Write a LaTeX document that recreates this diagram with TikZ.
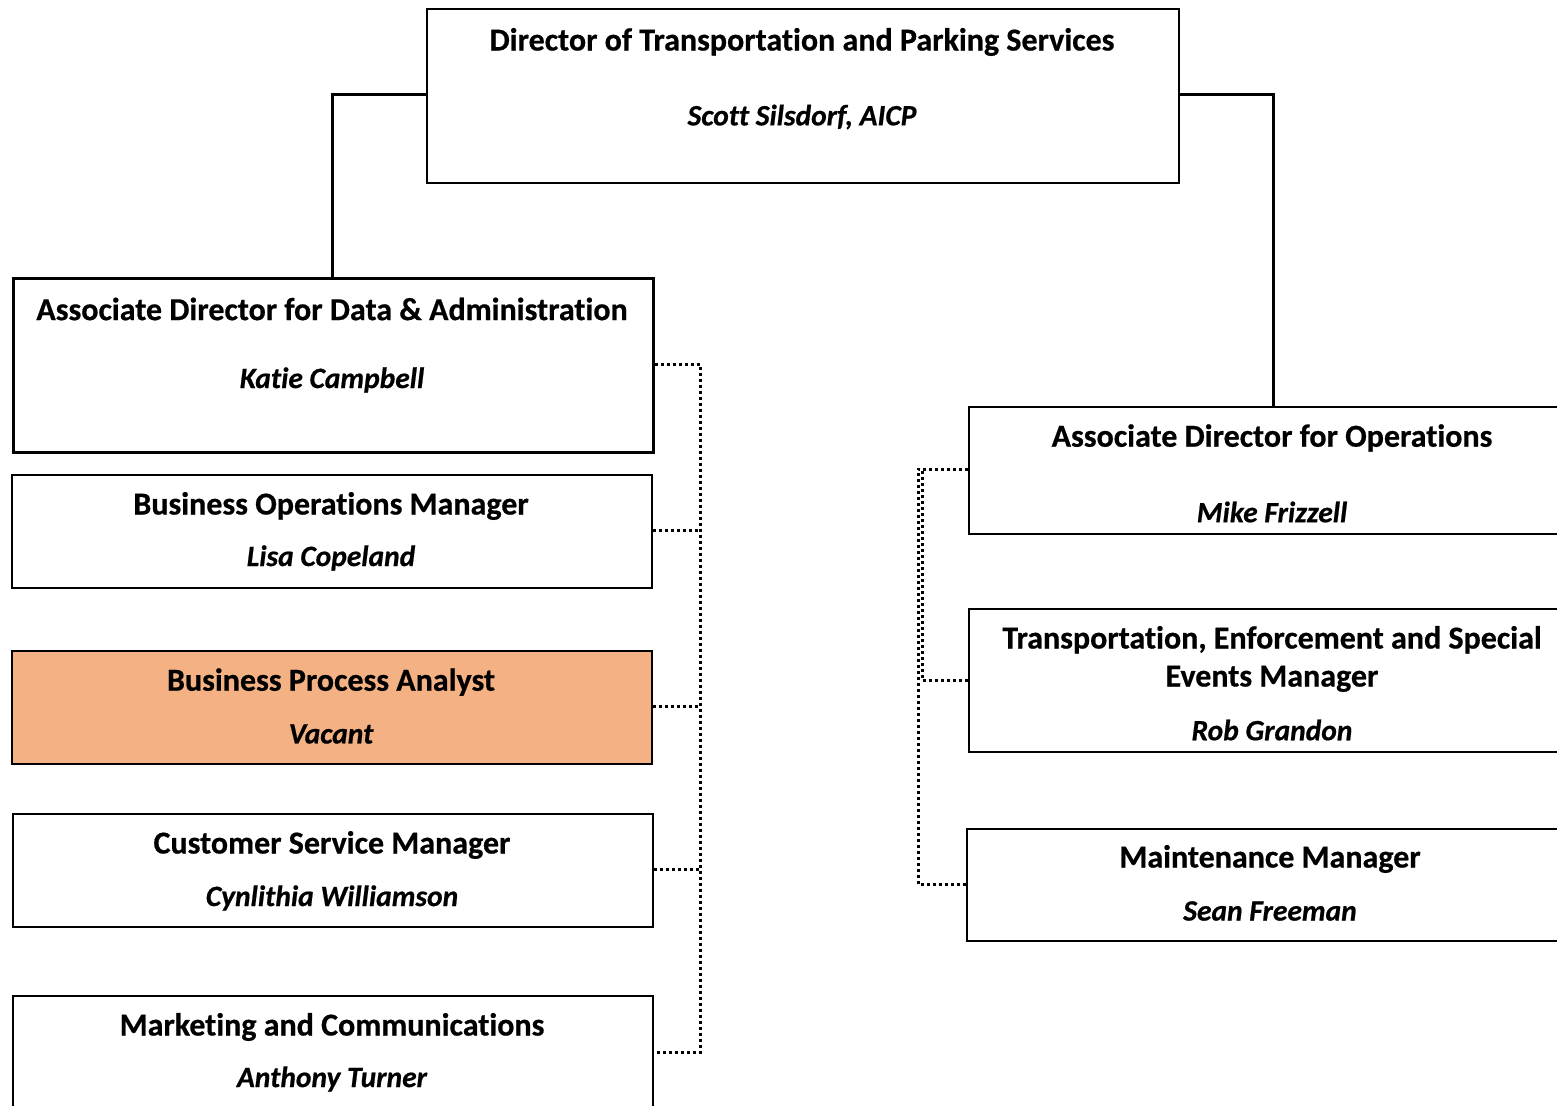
\documentclass[tikz,border=0pt]{standalone}
\usepackage{fontspec}
\setmainfont{Carlito}[Ligatures=NoCommon, BoldFeatures={FakeBold=0.6}, BoldItalicFeatures={FakeBold=0.6}]
\begin{document}
\begin{tikzpicture}[x=1pt,y=1pt,
  box/.style={draw=black, line width=2pt, fill=white, inner sep=0pt, anchor=north west},
  ttl/.style={font=\bfseries\fontsize{32}{38}\selectfont, align=center, inner sep=0pt},
  nm/.style={font=\bfseries\itshape\fontsize{29.5}{35}\selectfont, inner sep=0pt},
  solidc/.style={line width=3pt},
  dotc/.style={line width=3pt, dash pattern=on 3pt off 3pt}]
\useasboundingbox (0,0) rectangle (1557,-1105);
\clip (0,0) rectangle (1557,-1105);
\fill[white] (0,0) rectangle (1557,-1105);
% boxes
\node[box, minimum width=752, minimum height=174] (dir) at (426,-8) {};
\node[box, line width=2.5pt, minimum width=640, minimum height=174] (add) at (12,-277) {};
\node[box, minimum width=640, minimum height=113] (bom) at (11,-474) {};
\node[box, fill={rgb,255:red,244;green,177;blue,131}, minimum width=640, minimum height=113] (bpa) at (11,-650) {};
\node[box, minimum width=640, minimum height=113] (csm) at (12,-813) {};
\node[box, minimum width=640, minimum height=140] (mkt) at (12,-995) {};
\node[box, minimum width=640, minimum height=127] (ado) at (968,-406) {};
\node[box, minimum width=640, minimum height=143] (tes) at (968,-608) {};
\node[box, minimum width=640, minimum height=112] (mm) at (966,-828) {};
% texts
\node[ttl] (t1) at (802,-42) {Director of Transportation and Parking Services};
\node[nm] (n1) at (802,-117) {Scott Silsdorf, AICP};
\node[ttl] (t2) at (332,-309) {Associate Director for Data \& Administration};
\node[nm] (n2) at (332,-380) {Katie Campbell};
\node[ttl] (t3) at (331,-506) {Business Operations Manager};
\node[nm] (n3) at (331,-558) {Lisa Copeland};
\node[ttl] (t4) at (331,-682) {Business Process Analyst};
\node[nm] (n4) at (331,-734) {Vacant};
\node[ttl] (t5) at (332,-845) {Customer Service Manager};
\node[nm] (n5) at (332,-898) {Cynlithia Williamson};
\node[ttl] (t6) at (332,-1027) {Marketing and Communications};
\node[nm] (n6) at (332,-1079) {Anthony Turner};
\node[ttl] (t7) at (1272,-438) {Associate Director for Operations};
\node[nm] (n7) at (1272,-512) {Mike Frizzell};
\node[ttl] (t8) at (1272,-659) {Transportation, Enforcement and Special\\Events Manager};
\node[nm] (n8) at (1272,-730) {Rob Grandon};
\node[ttl] (t9) at (1270,-859) {Maintenance Manager};
\node[nm] (n9) at (1270,-911) {Sean Freeman};
% solid connectors
\draw[solidc] (dir.west |- 0,-95) -| (add.north -| 332,0);
\draw[solidc] (dir.east |- 0,-95) -| (1273,0 |- ado.north);
% dotted connectors left
\coordinate (lx) at (700,0);
\draw[dotc] (add.east |- 0,-364) -| (lx |- 0,-1052) -- (mkt.east |- 0,-1052);
\draw[dotc] (bom.east |- 0,-530) -- (lx |- 0,-530);
\draw[dotc] (bpa.east |- 0,-706) -- (lx |- 0,-706);
\draw[dotc] (csm.east |- 0,-869) -- (lx |- 0,-869);
% dotted connectors right
\draw[dotc] (ado.west |- 0,-469) -- (922,-469) |- (tes.west |- 0,-680);
\draw[dotc] (ado.west |- 0,-469) -- (918,-469) |- (mm.west |- 0,-884);
\end{tikzpicture}
\end{document}
